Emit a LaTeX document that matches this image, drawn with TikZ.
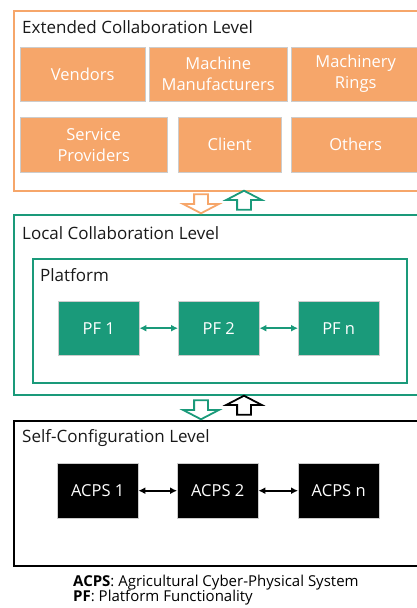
\documentclass[tikz,border=0pt]{standalone}
\usepackage{fontspec}
\setmainfont{Open Sans}
\usetikzlibrary{
    shapes.arrows,
    positioning,
    arrows.meta,
    calc
}
\definecolor{extorange}{RGB}{246,166,106}
\definecolor{locgreen}{RGB}{26,154,122}
\tikzset{
  level/.style = {
      draw,
      line width=2pt,
      anchor=north west,
      inner sep=0pt
  },
  title/.style = {
      anchor=west,
      inner sep=0pt,
      text=black!90,
      font=\fontsize{17}{20}\selectfont
  },
  basic/.style = {
      draw=black!20,
      anchor=north west,
      inner sep=0pt,
      text=white,
      align=center,
      font=\fontsize{16.5}{21}\selectfont
  },
  partner/.style = {
      basic,
      fill=extorange,
      minimum height=54pt
  },
  pfbox/.style = {
      basic,
      fill=locgreen,
      minimum width=81pt,
      minimum height=54pt
  },
  acps/.style = {
      basic,
      fill=black,
      minimum width=81pt,
      minimum height=55pt
  },
  link/.style = {
      {Latex[length=7pt,width=7pt]}-{Latex[length=7pt,width=7pt]},
      line width=2pt
  },
  flow/.style = {
      single arrow,
      draw,
      fill=white,
      line width=1.8pt,
      inner sep=6pt,
      minimum height=19pt,
      single arrow head extend=11pt,
      single arrow tip angle=125
  },
  legend/.style = {
      anchor=west,
      inner sep=0pt,
      font=\fontsize{15}{18}\selectfont
  }
}

\begin{document}
\begin{tikzpicture}[x=1pt, y=-1pt]
    \useasboundingbox (0,0) rectangle (417,608);
    \clip (0,0) rectangle (417,608);
    % Extended collaboration
    \node[level, draw=extorange, minimum width=414pt, minimum height=180pt] (ext) at (13,10) {};
    \node[title] (extt) at (22,27) {Extended Collaboration Level};
    \node[partner, minimum width=125pt] (ven) at (20,47) {Vendors};
    \node[partner, minimum width=138pt] (man) at (149,47) {Machine\\Manufacturers};
    \node[partner, minimum width=129pt] (rin) at (291,47) {Machinery\\Rings};
    \node[partner, minimum width=147pt, minimum height=55pt] (ser) at (20,117) {Service\\Providers};
    \node[partner, minimum width=103pt, minimum height=55pt] (cli) at (178,117) {Client};
    \node[partner, minimum width=129pt, minimum height=55pt] (oth) at (291,117) {Others};
    % Local collaboration
    \node[level, draw=locgreen, minimum width=414pt, minimum height=180pt] (loc) at (13,214) {};
    \node[title] (loct) at (22,233) {Local Collaboration Level};
    \node[level, draw=locgreen, line width=2.4pt, minimum width=374pt, minimum height=124pt] (plat) at (32,258) {};
    \node[title] (platt) at (40,275) {Platform};
    \node[pfbox] (pf1) at (58,301) {PF 1};
    \node[pfbox] (pf2) at (178,301) {PF 2};
    \node[pfbox] (pfn) at (298,301) {PF n};
    % Self-configuration
    \node[level, draw=black, minimum width=414pt, minimum height=145pt] (self) at (13,420) {};
    \node[title] (selft) at (22,438) {Self-Configuration Level};
    \node[acps] (ac1) at (57,463) {ACPS 1};
    \node[acps] (ac2) at (177,463) {ACPS 2};
    \node[acps] (acn) at (298,463) {ACPS n};
    % Flows between levels
    \node[flow, draw=extorange, shape border rotate=270] (down1) at (201,202) {};
    \node[flow, draw=locgreen, shape border rotate=90] (up1) at (244,202) {};
    \node[flow, draw=locgreen, shape border rotate=270] (down2) at (201,408) {};
    \node[flow, draw=black, shape border rotate=90] (up2) at (244,407) {};
    % Links
    \draw[link, locgreen] (pf1) -- (pf2);
    \draw[link, locgreen] (pf2) -- (pfn);
    \draw[link] (ac1) -- (ac2);
    \draw[link] (ac2) -- (acn);
    % Legend
    \node[legend] (leg1) at (73,583) {\textbf{ACPS}: Agricultural Cyber-Physical System};
    \node[legend] (leg2) at (73,598) {\textbf{PF}: Platform Functionality};
\end{tikzpicture}
\end{document}
